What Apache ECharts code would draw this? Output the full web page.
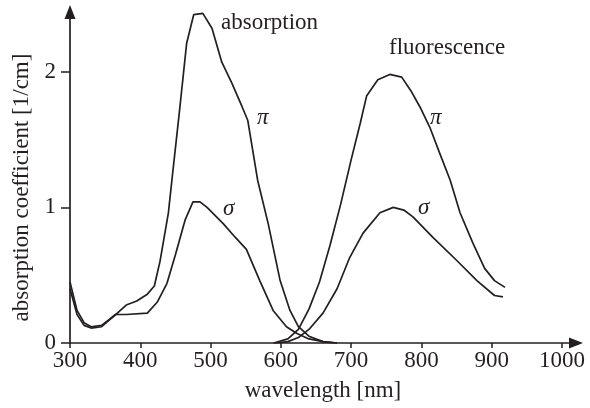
<!DOCTYPE html>
<html><head><meta charset="utf-8">
<script src="https://cdn.jsdelivr.net/npm/echarts@6/dist/echarts.min.js"></script>
<style>html,body{margin:0;padding:0;background:#fff}#c{width:590px;height:408px}</style>
</head><body><div id="c"></div>
<script>
const absPiX  = [300,310,320,330,345,365,380,395,410,420,428,440,445,456,466,476,489,502,516,530,545,553,567,582,599,613,625,640,660,680];
const absPiY  = [0.45,0.24,0.15,0.12,0.13,0.21,0.28,0.31,0.36,0.42,0.60,0.96,1.20,1.72,2.21,2.42,2.43,2.32,2.07,1.92,1.74,1.64,1.20,0.88,0.46,0.24,0.12,0.05,0.01,0.0];
const absSigX = [300,310,320,330,345,365,380,410,424,438,450,464,475,485,495,518,535,551,570,589,608,623,640,660,680];
const absSigY = [0.40,0.21,0.13,0.11,0.12,0.21,0.21,0.22,0.30,0.44,0.65,0.91,1.04,1.04,1.00,0.88,0.78,0.69,0.46,0.24,0.12,0.07,0.03,0.01,0.0];
const fluPiX  = [590,610,625,640,655,670,685,700,713,722,738,755,772,785,798,812,826,841,855,873,890,904,919];
const fluPiY  = [0.0,0.03,0.10,0.25,0.45,0.72,1.02,1.35,1.62,1.82,1.94,1.98,1.96,1.86,1.74,1.59,1.40,1.20,0.96,0.74,0.55,0.46,0.41];
const fluSigX = [590,610,625,640,660,680,698,717,741,760,775,788,816,850,879,904,916];
const fluSigY = [0.0,0.01,0.04,0.10,0.22,0.40,0.63,0.81,0.96,1.00,0.98,0.93,0.78,0.61,0.46,0.35,0.34];
const xTicks = [300,400,500,600,700,800,900,1000];
const yTicks = [0,1,2];

const F = 'Liberation Serif, Times New Roman, serif';
const INK = '#231f20';
const pairs = (xs, ys) => xs.map((x, i) => [x, ys[i]]);
const line = (name, xs, ys) => ({
  name, type: 'line', data: pairs(xs, ys), symbol: 'none', smooth: false,
  lineStyle: { color: INK, width: 1.7 }, silent: true, animation: false
});

const chart = echarts.init(document.getElementById('c'), null, { renderer: 'canvas' });
chart.setOption({
  animation: false,
  grid: { left: 70, right: 14, top: 12, bottom: 65, containLabel: false },
  xAxis: {
    type: 'value', min: 300, max: 1020, interval: 100,
    name: 'wavelength [nm]', nameLocation: 'middle', nameGap: 36,
    nameTextStyle: { fontFamily: F, fontSize: 23, color: INK },
    axisLine: { show: true, symbol: ['none', 'triangle'], symbolSize: [11, 14], lineStyle: { color: INK, width: 1.7 } },
    axisTick: { show: true, length: 5, lineStyle: { color: INK, width: 1.5 }, customValues: xTicks },
    axisLabel: { fontFamily: F, fontSize: 23, color: INK, margin: 6, customValues: xTicks, formatter: v => String(v) },
    splitLine: { show: false }
  },
  yAxis: {
    type: 'value', min: 0, max: 2.44, interval: 1,
    name: 'absorption coefficient [1/cm]', nameLocation: 'middle', nameGap: 36, nameRotate: 90,
    nameTextStyle: { fontFamily: F, fontSize: 23, color: INK, padding: [0, 20, 0, 0] },
    axisLine: { show: true, symbol: ['none', 'triangle'], symbolSize: [11, 14], lineStyle: { color: INK, width: 1.7 } },
    axisTick: { show: true, length: 9, lineStyle: { color: INK, width: 1.5 }, customValues: yTicks },
    axisLabel: { fontFamily: F, fontSize: 23, color: INK, margin: 14, customValues: yTicks, formatter: v => String(v) },
    splitLine: { show: false }
  },
  series: [
    line('absorption π', absPiX, absPiY),
    line('absorption σ', absSigX, absSigY),
    line('fluorescence π', fluPiX, fluPiY),
    line('fluorescence σ', fluSigX, fluSigY)
  ],
  graphic: [
    { type: 'text', left: 221, top: 11, style: { text: 'absorption', font: '23px ' + F, fill: INK } },
    { type: 'text', left: 389, top: 36, style: { text: 'fluorescence', font: '23px ' + F, fill: INK } },
    { type: 'text', left: 257, top: 106, style: { text: 'π', font: 'italic 23px ' + F, fill: INK } },
    { type: 'text', left: 223, top: 197, style: { text: 'σ', font: 'italic 23px ' + F, fill: INK } },
    { type: 'text', left: 430, top: 106, style: { text: 'π', font: 'italic 23px ' + F, fill: INK } },
    { type: 'text', left: 418, top: 196, style: { text: 'σ', font: 'italic 23px ' + F, fill: INK } }
  ]
});
</script>
</body></html>
